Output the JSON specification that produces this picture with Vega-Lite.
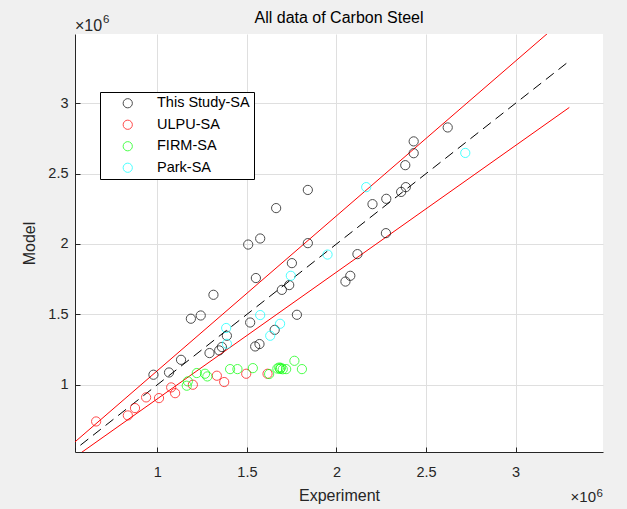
{
  "$schema": "https://vega.github.io/schema/vega-lite/v6.json",
  "width": 528,
  "height": 418,
  "autosize": {"type": "none"},
  "padding": {"left": 75, "top": 34, "right": 24, "bottom": 57},
  "background": "#f0f0f0",
  "view": {"fill": "white", "stroke": null},
  "title": {"text": "All data of Carbon Steel", "font": "Liberation Sans", "fontSize": 16, "fontWeight": "normal", "color": "#000000", "offset": 8, "dy": 20},
  "config": {
    "axis": {
      "domainColor": "#262626", "domainWidth": 1, "tickColor": "#262626", "tickSize": -5,
      "gridColor": "#dfdfdf", "gridWidth": 1, "labelColor": "#262626", "labelFont": "Liberation Sans",
      "labelFontSize": 14.5, "titleFont": "Liberation Sans", "titleFontSize": 16, "titleFontWeight": "normal", "titleColor": "#262626"
    }
  },
  "layer": [
    {
      "data": {"values": [
        {"line": "upper", "x": 0.5, "y": 0.55}, {"line": "upper", "x": 3.3, "y": 3.63},
        {"line": "lower", "x": 0.5, "y": 0.45}, {"line": "lower", "x": 3.3, "y": 2.97}
      ]},
      "mark": {"type": "line", "color": "#ff0000", "strokeWidth": 1, "clip": true},
      "encoding": {
        "x": {"field": "x", "type": "quantitative"},
        "y": {"field": "y", "type": "quantitative"},
        "detail": {"field": "line"}
      }
    },
    {
      "data": {"values": [{"x": 0.5, "y": 0.5}, {"x": 3.3, "y": 3.3}]},
      "mark": {"type": "line", "color": "#000000", "strokeWidth": 1, "strokeDash": [10, 6], "clip": true},
      "encoding": {
        "x": {"field": "x", "type": "quantitative"},
        "y": {"field": "y", "type": "quantitative"}
      }
    },
    {
      "data": {"values": [
        {"source": "This Study-SA", "experiment": 2.621, "model": 2.828},
        {"source": "This Study-SA", "experiment": 2.431, "model": 2.729},
        {"source": "This Study-SA", "experiment": 2.431, "model": 2.645},
        {"source": "This Study-SA", "experiment": 2.384, "model": 2.560},
        {"source": "This Study-SA", "experiment": 2.387, "model": 2.404},
        {"source": "This Study-SA", "experiment": 2.361, "model": 2.370},
        {"source": "This Study-SA", "experiment": 2.278, "model": 2.321},
        {"source": "This Study-SA", "experiment": 2.201, "model": 2.283},
        {"source": "This Study-SA", "experiment": 2.276, "model": 2.077},
        {"source": "This Study-SA", "experiment": 2.117, "model": 1.928},
        {"source": "This Study-SA", "experiment": 2.077, "model": 1.774},
        {"source": "This Study-SA", "experiment": 2.050, "model": 1.733},
        {"source": "This Study-SA", "experiment": 1.840, "model": 2.384},
        {"source": "This Study-SA", "experiment": 1.663, "model": 2.255},
        {"source": "This Study-SA", "experiment": 1.574, "model": 2.039},
        {"source": "This Study-SA", "experiment": 1.507, "model": 1.996},
        {"source": "This Study-SA", "experiment": 1.840, "model": 2.006},
        {"source": "This Study-SA", "experiment": 1.751, "model": 1.864},
        {"source": "This Study-SA", "experiment": 1.550, "model": 1.758},
        {"source": "This Study-SA", "experiment": 1.736, "model": 1.708},
        {"source": "This Study-SA", "experiment": 1.695, "model": 1.674},
        {"source": "This Study-SA", "experiment": 1.779, "model": 1.497},
        {"source": "This Study-SA", "experiment": 1.313, "model": 1.639},
        {"source": "This Study-SA", "experiment": 1.187, "model": 1.469},
        {"source": "This Study-SA", "experiment": 1.242, "model": 1.492},
        {"source": "This Study-SA", "experiment": 1.518, "model": 1.442},
        {"source": "This Study-SA", "experiment": 1.388, "model": 1.348},
        {"source": "This Study-SA", "experiment": 1.291, "model": 1.225},
        {"source": "This Study-SA", "experiment": 1.345, "model": 1.244},
        {"source": "This Study-SA", "experiment": 1.360, "model": 1.268},
        {"source": "This Study-SA", "experiment": 1.546, "model": 1.272},
        {"source": "This Study-SA", "experiment": 1.570, "model": 1.289},
        {"source": "This Study-SA", "experiment": 1.655, "model": 1.390},
        {"source": "This Study-SA", "experiment": 1.132, "model": 1.177},
        {"source": "This Study-SA", "experiment": 1.065, "model": 1.087},
        {"source": "This Study-SA", "experiment": 0.978, "model": 1.071},
        {"source": "ULPU-SA", "experiment": 0.658, "model": 0.739},
        {"source": "ULPU-SA", "experiment": 0.835, "model": 0.782},
        {"source": "ULPU-SA", "experiment": 0.875, "model": 0.834},
        {"source": "ULPU-SA", "experiment": 0.937, "model": 0.910},
        {"source": "ULPU-SA", "experiment": 1.009, "model": 0.905},
        {"source": "ULPU-SA", "experiment": 1.077, "model": 0.981},
        {"source": "ULPU-SA", "experiment": 1.099, "model": 0.940},
        {"source": "ULPU-SA", "experiment": 1.198, "model": 1.000},
        {"source": "ULPU-SA", "experiment": 1.332, "model": 1.064},
        {"source": "ULPU-SA", "experiment": 1.373, "model": 1.019},
        {"source": "ULPU-SA", "experiment": 1.496, "model": 1.078},
        {"source": "ULPU-SA", "experiment": 1.615, "model": 1.078},
        {"source": "FIRM-SA", "experiment": 1.164, "model": 0.993},
        {"source": "FIRM-SA", "experiment": 1.170, "model": 1.024},
        {"source": "FIRM-SA", "experiment": 1.220, "model": 1.083},
        {"source": "FIRM-SA", "experiment": 1.266, "model": 1.078},
        {"source": "FIRM-SA", "experiment": 1.279, "model": 1.059},
        {"source": "FIRM-SA", "experiment": 1.406, "model": 1.111},
        {"source": "FIRM-SA", "experiment": 1.447, "model": 1.111},
        {"source": "FIRM-SA", "experiment": 1.533, "model": 1.118},
        {"source": "FIRM-SA", "experiment": 1.624, "model": 1.076},
        {"source": "FIRM-SA", "experiment": 1.670, "model": 1.115},
        {"source": "FIRM-SA", "experiment": 1.680, "model": 1.122},
        {"source": "FIRM-SA", "experiment": 1.685, "model": 1.112},
        {"source": "FIRM-SA", "experiment": 1.690, "model": 1.120},
        {"source": "FIRM-SA", "experiment": 1.700, "model": 1.110},
        {"source": "FIRM-SA", "experiment": 1.719, "model": 1.111},
        {"source": "FIRM-SA", "experiment": 1.765, "model": 1.170},
        {"source": "FIRM-SA", "experiment": 1.807, "model": 1.111},
        {"source": "Park-SA", "experiment": 2.719, "model": 2.647},
        {"source": "Park-SA", "experiment": 2.166, "model": 2.404},
        {"source": "Park-SA", "experiment": 1.950, "model": 1.925},
        {"source": "Park-SA", "experiment": 1.745, "model": 1.774},
        {"source": "Park-SA", "experiment": 1.574, "model": 1.495},
        {"source": "Park-SA", "experiment": 1.685, "model": 1.433},
        {"source": "Park-SA", "experiment": 1.630, "model": 1.348},
        {"source": "Park-SA", "experiment": 1.384, "model": 1.403},
        {"source": "Park-SA", "experiment": 1.388, "model": 1.291}
      ]},
      "mark": {"type": "point", "shape": "circle", "filled": false, "strokeWidth": 1, "size": 85, "clip": true},
      "encoding": {
        "x": {"field": "experiment", "type": "quantitative",
          "scale": {"domain": [0.54, 3.488], "nice": false, "zero": false},
          "axis": {"title": "Experiment", "values": [1, 1.5, 2, 2.5, 3], "format": "~g", "labelPadding": 18, "titlePadding": 9}},
        "y": {"field": "model", "type": "quantitative",
          "scale": {"domain": [0.522, 3.492], "nice": false, "zero": false},
          "axis": {"title": "Model", "values": [1, 1.5, 2, 2.5, 3], "format": "~g", "labelPadding": 12, "titlePadding": 10}},
        "stroke": {"field": "source", "type": "nominal",
          "scale": {"domain": ["This Study-SA", "ULPU-SA", "FIRM-SA", "Park-SA"], "range": ["#000000", "#ff0000", "#00ff00", "#00ffff"]},
          "legend": {"title": null, "orient": "none", "legendX": 25, "legendY": 58, "strokeColor": "#000000", "fillColor": "#ffffff",
            "padding": 4, "symbolType": "circle", "symbolSize": 85, "symbolStrokeWidth": 1, "symbolFillColor": "transparent",
            "labelFont": "Liberation Sans", "labelFontSize": 14.5, "labelColor": "#000000", "rowPadding": 6.5, "symbolOffset": 16.5, "labelOffset": 22}}
      }
    },
    {
      "data": {"values": [{"note": "×10"}]},
      "mark": {"type": "text", "align": "left", "baseline": "alphabetic", "dy": -3, "font": "Liberation Sans", "fontSize": 16, "color": "#262626"},
      "encoding": {
        "x": {"datum": 0.54, "type": "quantitative"},
        "y": {"datum": 3.492, "type": "quantitative"},
        "text": {"field": "note"}
      }
    },
    {
      "data": {"values": [{"note": "6"}]},
      "mark": {"type": "text", "align": "left", "baseline": "alphabetic", "dx": 28, "dy": -11, "font": "Liberation Sans", "fontSize": 11.5, "color": "#262626"},
      "encoding": {
        "x": {"datum": 0.54, "type": "quantitative"},
        "y": {"datum": 3.492, "type": "quantitative"},
        "text": {"field": "note"}
      }
    },
    {
      "data": {"values": [{"note": "×10"}]},
      "mark": {"type": "text", "align": "right", "baseline": "alphabetic", "dx": -7, "dy": 50, "font": "Liberation Sans", "fontSize": 15, "color": "#262626"},
      "encoding": {
        "x": {"datum": 3.488, "type": "quantitative"},
        "y": {"datum": 0.522, "type": "quantitative"},
        "text": {"field": "note"}
      }
    },
    {
      "data": {"values": [{"note": "6"}]},
      "mark": {"type": "text", "align": "right", "baseline": "alphabetic", "dx": 0, "dy": 44.5, "font": "Liberation Sans", "fontSize": 11.5, "color": "#262626"},
      "encoding": {
        "x": {"datum": 3.488, "type": "quantitative"},
        "y": {"datum": 0.522, "type": "quantitative"},
        "text": {"field": "note"}
      }
    }
  ]
}
